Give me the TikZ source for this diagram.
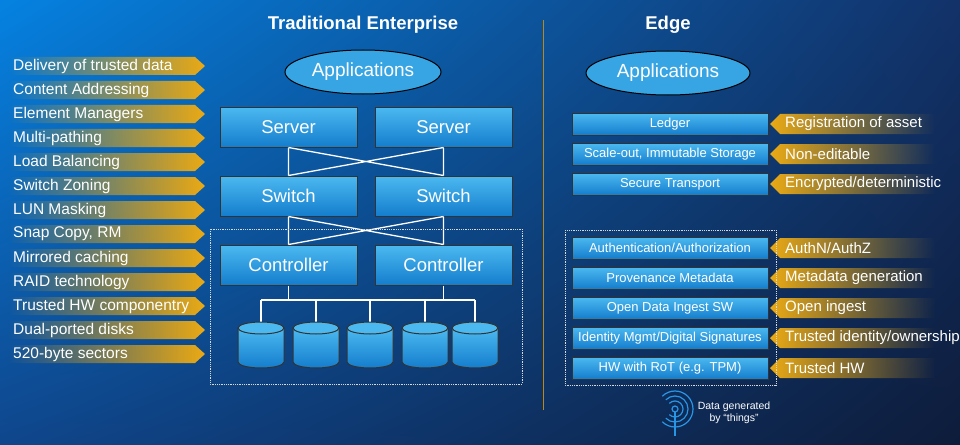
\documentclass[tikz,border=0pt]{standalone}
\usepackage{fontspec}
\setmainfont{Liberation Sans}
\usetikzlibrary{fadings,shapes.geometric,shadings}
\definecolor{gold}{RGB}{235,170,20}
\definecolor{boxtop}{RGB}{75,185,240}
\definecolor{boxbot}{RGB}{20,125,205}
\definecolor{ellfill}{RGB}{55,165,228}
\definecolor{bgul}{RGB}{5,130,225}
\definecolor{bgur}{RGB}{18,50,105}
\definecolor{bgll}{RGB}{15,70,140}
\definecolor{bglr}{RGB}{14,28,58}
\definecolor{antc}{RGB}{40,150,230}
\tikzset{
  every node/.style={text=white},
  bigbox/.style={draw=black!80, line width=1pt, top color=boxtop, bottom color=boxbot, minimum width=137pt, minimum height=40pt, font=\fontsize{18.5}{20}\selectfont},
  smallbox/.style={draw=black!80, line width=1pt, top color=boxtop, bottom color=boxbot, minimum width=196pt, minimum height=22pt, font=\fontsize{13}{15}\selectfont},
  appell/.style={ellipse, draw=black, line width=1pt, fill=ellfill, font=\fontsize{19}{21}\selectfont},
  lbl/.style={anchor=west, font=\fontsize{15.5}{17}\selectfont, inner sep=0pt},
  rlbl/.style={anchor=west, font=\fontsize{15}{17}\selectfont, inner sep=0pt},
  wire/.style={white, line width=1.3pt},
  dotbox/.style={draw=white!85!black, densely dotted, line width=0.8pt},
  cylbody/.style={draw=black!80, line width=1pt, top color=boxtop, bottom color=boxbot},
  cyltop/.style={draw=black!80, line width=1pt, fill=boxtop}
}
\begin{document}
\begin{tikzpicture}[x=1pt,y=-1pt]
\useasboundingbox (0,0) rectangle (960,444);
\shade[upper left=bgul, upper right=bgur, lower left=bgll, lower right=bglr] (0,0) rectangle (960,444);

\node[font=\bfseries\fontsize{18.5}{20}\selectfont] (t1) at (363,25) {Traditional Enterprise};
\node[font=\bfseries\fontsize{18.5}{20}\selectfont] (t2) at (668,25) {Edge};
\draw[gold!80!black, line width=1pt] (543,20) -- (543,410);

% left labels
\foreach \y/\t [count=\i] in {66/Delivery of trusted data,90/Content Addressing,114/Element Managers,138/Multi-pathing,162/Load Balancing,186/Switch Zoning,210/LUN Masking,234/{Snap Copy, RM},258/Mirrored caching,282/RAID technology,306/Trusted HW componentry,330/Dual-ported disks,354/520-byte sectors}{
  \fill[gold, path fading=west] (8,\y-9) -- (195,\y-9) -- (205,\y) -- (195,\y+9) -- (8,\y+9) -- cycle;
  \node[lbl] (L\i) at (13,\y) {\t};
}

% traditional
\node[appell, minimum width=156pt, minimum height=44pt] (app1) at (363,72) {Applications};
\node[bigbox] (s1) at (288.5,127) {Server};
\node[bigbox] (s2) at (443.5,127) {Server};
\node[bigbox] (w1) at (288.5,196) {Switch};
\node[bigbox] (w2) at (443.5,196) {Switch};
\node[bigbox] (c1) at (288.5,265) {Controller};
\node[bigbox] (c2) at (443.5,265) {Controller};
\draw[wire] (s1.south) -- (w1.north) (s2.south) -- (w2.north) (s1.south) -- (w2.north) (s2.south) -- (w1.north);
\draw[wire] (w1.south) -- (c1.north) (w2.south) -- (c2.north) (w1.south) -- (c2.north) (w2.south) -- (c1.north);
\draw[dotbox] (210,229) rectangle (522,384);
\coordinate (busL) at (261,300);
\coordinate (busR) at (475,300);
\draw[wire] (busL) -- (busR);
\draw[wire] (c1.south) -- (c1.south |- busL);
\draw[wire] (c2.south) -- (c2.south |- busL);
\foreach \x [count=\i] in {261,316,370,425,475}{
  \coordinate (d\i) at (\x,322);
  \draw[wire] (d\i |- busL) -- (d\i);
  \path[cylbody] (\x-23,328) -- (\x-23,362) arc[start angle=180, end angle=0, x radius=23, y radius=6] -- (\x+23,328) -- cycle;
  \draw[cyltop] (\x,328) ellipse[x radius=23, y radius=6];
}

% edge
\node[appell, minimum width=164pt, minimum height=44pt] (app2) at (668,73) {Applications};
\foreach \y/\t/\r [count=\i] in {124/Ledger/Registration of asset,154/{Scale-out, Immutable Storage}/Non-editable,184/Secure Transport/{Encrypted/deterministic},248/{Authentication/Authorization}/{AuthN/AuthZ},278/Provenance Metadata/Metadata generation,308/Open Data Ingest SW/Open ingest,338/{Identity Mgmt/Digital Signatures}/{Trusted identity/ownership},368/HW with RoT (e.g. TPM)/Trusted HW}{
  \fill[gold, path fading=east] (770,\y) -- (780,\y-10) -- (935,\y-10) -- (935,\y+10) -- (780,\y+10) -- cycle;
  \node[smallbox] (E\i) at (670,\y) {\t};
  \node[rlbl] (R\i) at (785,\y) {\r};
}
\draw[dotbox] (565,230) rectangle (776,385);

% antenna icon
\begin{scope}[draw=antc, line width=1.2pt]
  \draw (675,409) circle (3);
  \draw (675,412) -- (675,436);
  \foreach \r in {8,13,18}{
    \draw (675,409) ++(-135:\r) arc[start angle=-135, end angle=135, radius=\r];
  }
  \coordinate (ant) at (675,409);
\end{scope}
\node[font=\fontsize{10.5}{12.5}\selectfont, align=center] (dg) at (734,413) {Data generated\\by “things”};
\end{tikzpicture}
\end{document}
